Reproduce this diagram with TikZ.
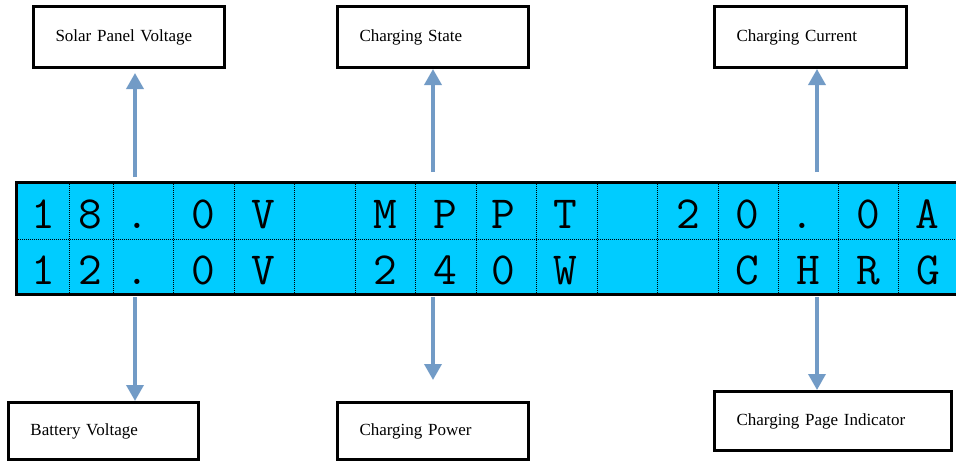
\documentclass[tikz,border=0pt]{standalone}
\usepackage{fontspec}
\setmainfont{Liberation Serif}
\usetikzlibrary{arrows.meta}
\definecolor{lcdblue}{RGB}{0,204,255}
\definecolor{arrowblue}{RGB}{114,155,198}
\tikzstyle{box}=[draw,line width=3pt,inner xsep=22pt,inner ysep=0pt,align=left,
  anchor=north west,font=\fontsize{17}{20}\selectfont]
\tikzstyle{arr}=[->,draw=arrowblue,line width=3.5pt]
\tikzstyle{grid}=[line width=.8pt,dash pattern=on 1pt off 1pt]

\begin{document}
\begin{tikzpicture}[x=1pt, y=-1pt, >={Triangle[width=17pt,length=16pt]}]
  \tikzstyle{chr}=[anchor=base, inner sep=0pt, font=\ttfamily\fontsize{46}{46}\selectfont]
  \useasboundingbox (0,0) rectangle (956,463);

  \fill[lcdblue] (16.5,182.5) rectangle (962,294.5);
  \foreach \x in {69,113,173,234,294,355,415,476,536,597,657,718,778,838,898}
    \draw[grid] (\x,184) -- (\x,293);
  \draw[grid] (18,239) -- (962,239);
  \draw[line width=3pt] (16.5,182.5) rectangle (962,294.5);

  \foreach \x/\c [count=\i] in {43/1,90/8,137/.,203/0,263/V,385/M,445/P,503/P,565/T,688/2,747/0,802/.,868/0,927/A}
    \node[chr] (top\i) at (\x,228) {\c};
  \foreach \x/\c [count=\i] in {43/1,90/2,137/.,203/0,263/V,385/2,445/4,503/0,565/W,747/C,808/H,868/R,928/G}
    \node[chr] (bot\i) at (\x,284) {\c};

  \node[box, text width=147pt, minimum height=61pt] (solar) at (32,5) {\mbox{Solar Panel Voltage}};
  \node[box, text width=147pt, minimum height=61pt] (state) at (336,5) {\mbox{Charging State}};
  \node[box, text width=148pt, minimum height=61pt] (current) at (713,5) {\mbox{Charging Current}};
  \node[box, text width=146pt, minimum height=57pt] (battery) at (7,401) {\mbox{Battery Voltage}};
  \node[box, text width=147pt, minimum height=57pt] (power) at (336,401) {\mbox{Charging Power}};
  \node[box, text width=193pt, minimum height=59pt] (page) at (713,390) {\mbox{Charging Page Indicator}};

  \coordinate (up1) at (135,177);
  \coordinate (up2) at (433,172);
  \coordinate (up3) at (817,172);
  \coordinate (dn1) at (135,297);
  \coordinate (dn2) at (433,297);
  \coordinate (dn3) at (817,297);
  \coordinate (pwrtip) at (433,380);

  \draw[arr, shorten >=4pt] (up1) -- (up1 |- solar.south);
  \draw[arr] (up2) -- (up2 |- state.south);
  \draw[arr] (up3) -- (up3 |- current.south);
  \draw[arr] (dn1) -- (dn1 |- battery.north);
  \draw[arr] (dn2) -- (pwrtip);
  \draw[arr] (dn3) -- (dn3 |- page.north);
\end{tikzpicture}
\end{document}
